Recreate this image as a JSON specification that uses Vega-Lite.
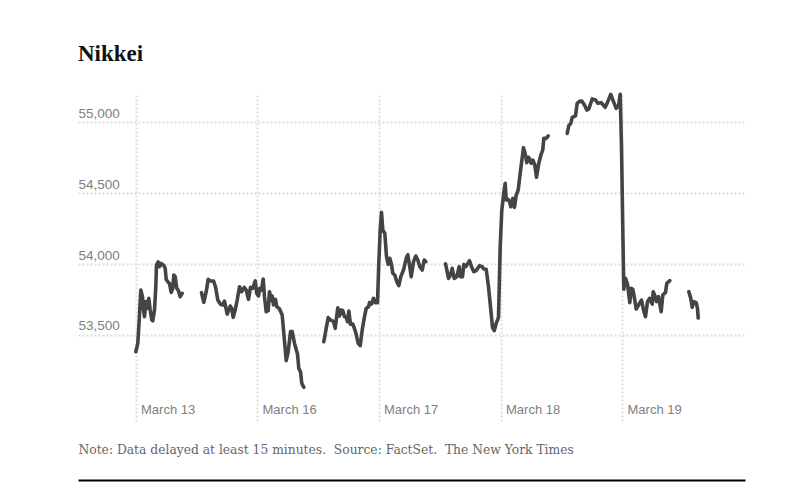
{"$schema":"https://vega.github.io/schema/vega-lite/v6.json","width":667,"height":327,"autosize":"none","padding":{"left":78,"top":95,"right":60,"bottom":78},"background":"white","config":{"view":{"stroke":null}},"title":{"text":"Nikkei","anchor":"start","frame":"group","font":"Liberation Serif","fontSize":23,"fontWeight":"bold","color":"#111111","baseline":"alphabetic","offset":8},"data":{"values":[
{"e":0.3,"v":53381,"s":1},{"e":2.3,"v":53440,"s":1},{"e":3.7,"v":53605,"s":1},{"e":5.3,"v":53817,"s":1},{"e":7,"v":53770,"s":1},{"e":8,"v":53676,"s":1},{"e":9,"v":53629,"s":1},{"e":10.3,"v":53735,"s":1},{"e":11.7,"v":53687,"s":1},{"e":13.3,"v":53758,"s":1},{"e":14.7,"v":53676,"s":1},{"e":16.3,"v":53605,"s":1},{"e":17.3,"v":53600,"s":1},{"e":19,"v":53676,"s":1},{"e":20.3,"v":53840,"s":1},{"e":21,"v":53994,"s":1},{"e":22.7,"v":54015,"s":1},{"e":24,"v":53982,"s":1},{"e":25.7,"v":54005,"s":1},{"e":28.3,"v":53991,"s":1},{"e":29.7,"v":53970,"s":1},{"e":30.7,"v":53892,"s":1},{"e":32.7,"v":53871,"s":1},{"e":34,"v":53864,"s":1},{"e":35.7,"v":53800,"s":1},{"e":37.3,"v":53829,"s":1},{"e":38.3,"v":53923,"s":1},{"e":39.7,"v":53911,"s":1},{"e":41.3,"v":53829,"s":1},{"e":43,"v":53812,"s":1},{"e":44.7,"v":53770,"s":1},{"e":46.7,"v":53793,"s":1},
{"e":66,"v":53798,"s":2},{"e":68.3,"v":53730,"s":2},{"e":70.7,"v":53805,"s":2},{"e":72.7,"v":53892,"s":2},{"e":74.7,"v":53881,"s":2},{"e":78,"v":53881,"s":2},{"e":80,"v":53840,"s":2},{"e":82.3,"v":53746,"s":2},{"e":85,"v":53716,"s":2},{"e":87.3,"v":53711,"s":2},{"e":89,"v":53739,"s":2},{"e":91.7,"v":53647,"s":2},{"e":94.7,"v":53704,"s":2},{"e":96.3,"v":53687,"s":2},{"e":97.7,"v":53624,"s":2},{"e":99.7,"v":53676,"s":2},{"e":101.7,"v":53746,"s":2},{"e":104,"v":53840,"s":2},{"e":106,"v":53805,"s":2},{"e":108.7,"v":53836,"s":2},{"e":110.7,"v":53817,"s":2},{"e":113,"v":53751,"s":2},{"e":115,"v":53836,"s":2},{"e":117.3,"v":53829,"s":2},{"e":119.7,"v":53881,"s":2},{"e":121.3,"v":53793,"s":2},{"e":123,"v":53775,"s":2},{"e":124.3,"v":53829,"s":2},{"e":126,"v":53817,"s":2},{"e":127.7,"v":53895,"s":2},{"e":129,"v":53770,"s":2},{"e":130.7,"v":53664,"s":2},{"e":132.7,"v":53671,"s":2},{"e":134,"v":53805,"s":2},{"e":135.7,"v":53746,"s":2},{"e":136.7,"v":53775,"s":2},{"e":138,"v":53711,"s":2},{"e":140,"v":53751,"s":2},{"e":141.3,"v":53699,"s":2},{"e":144,"v":53683,"s":2},{"e":146.7,"v":53640,"s":2},{"e":148.3,"v":53511,"s":2},{"e":150.7,"v":53318,"s":2},{"e":152.7,"v":53381,"s":2},{"e":155,"v":53523,"s":2},{"e":156.7,"v":53523,"s":2},{"e":159,"v":53440,"s":2},{"e":162,"v":53365,"s":2},{"e":163.3,"v":53264,"s":2},{"e":165,"v":53240,"s":2},{"e":166.3,"v":53158,"s":2},{"e":168.3,"v":53130,"s":2},
{"e":188.3,"v":53452,"s":3},{"e":190.7,"v":53546,"s":3},{"e":192.7,"v":53622,"s":3},{"e":195,"v":53605,"s":3},{"e":198,"v":53596,"s":3},{"e":199.7,"v":53546,"s":3},{"e":202.3,"v":53692,"s":3},{"e":204,"v":53633,"s":3},{"e":205.7,"v":53676,"s":3},{"e":207.3,"v":53671,"s":3},{"e":209,"v":53629,"s":3},{"e":210.7,"v":53624,"s":3},{"e":212,"v":53593,"s":3},{"e":213.3,"v":53669,"s":3},{"e":215,"v":53575,"s":3},{"e":217.3,"v":53577,"s":3},{"e":220,"v":53523,"s":3},{"e":222.7,"v":53440,"s":3},{"e":224.7,"v":53424,"s":3},{"e":226.7,"v":53535,"s":3},{"e":229,"v":53629,"s":3},{"e":230.7,"v":53687,"s":3},{"e":233,"v":53699,"s":3},{"e":234,"v":53728,"s":3},{"e":236,"v":53718,"s":3},{"e":238,"v":53758,"s":3},{"e":240,"v":53728,"s":3},{"e":242,"v":53728,"s":3},{"e":243.3,"v":54005,"s":3},{"e":244.7,"v":54241,"s":3},{"e":246,"v":54365,"s":3},{"e":247.3,"v":54241,"s":3},{"e":249.3,"v":54217,"s":3},{"e":251,"v":54052,"s":3},{"e":252.7,"v":53998,"s":3},{"e":254.3,"v":54041,"s":3},{"e":256,"v":53998,"s":3},{"e":257.3,"v":53935,"s":3},{"e":259.3,"v":53923,"s":3},{"e":261.3,"v":53876,"s":3},{"e":263.3,"v":53848,"s":3},{"e":265.3,"v":53911,"s":3},{"e":268,"v":53958,"s":3},{"e":270.7,"v":54041,"s":3},{"e":272.3,"v":54066,"s":3},{"e":274,"v":53994,"s":3},{"e":275.7,"v":53911,"s":3},{"e":278,"v":54017,"s":3},{"e":280.3,"v":54057,"s":3},{"e":282.3,"v":54029,"s":3},{"e":284.3,"v":53982,"s":3},{"e":286.7,"v":53958,"s":3},{"e":288.7,"v":54029,"s":3},{"e":290.3,"v":54017,"s":3},
{"e":310,"v":54001,"s":4},{"e":311.7,"v":53946,"s":4},{"e":313,"v":53899,"s":4},{"e":315,"v":53923,"s":4},{"e":316.7,"v":53970,"s":4},{"e":318.7,"v":53899,"s":4},{"e":321.3,"v":53911,"s":4},{"e":323.7,"v":53982,"s":4},{"e":325,"v":53911,"s":4},{"e":327,"v":53911,"s":4},{"e":328.3,"v":53998,"s":4},{"e":330.3,"v":53982,"s":4},{"e":334,"v":54024,"s":4},{"e":336,"v":53982,"s":4},{"e":338.3,"v":53946,"s":4},{"e":340.7,"v":53954,"s":4},{"e":344,"v":53989,"s":4},{"e":346.7,"v":53982,"s":4},{"e":348.3,"v":53965,"s":4},{"e":350.7,"v":53963,"s":4},{"e":353,"v":53840,"s":4},{"e":355,"v":53699,"s":4},{"e":357,"v":53553,"s":4},{"e":358.7,"v":53530,"s":4},{"e":360.7,"v":53582,"s":4},{"e":363,"v":53624,"s":4},{"e":364.7,"v":54123,"s":4},{"e":366.3,"v":54382,"s":4},{"e":368.3,"v":54500,"s":4},{"e":369.7,"v":54570,"s":4},{"e":370.7,"v":54453,"s":4},{"e":372.7,"v":54457,"s":4},{"e":374,"v":54441,"s":4},{"e":375.3,"v":54405,"s":4},{"e":377.3,"v":54464,"s":4},{"e":379,"v":54401,"s":4},{"e":380.7,"v":54488,"s":4},{"e":382.7,"v":54523,"s":4},{"e":384.7,"v":54641,"s":4},{"e":388,"v":54822,"s":4},{"e":390,"v":54770,"s":4},{"e":391.3,"v":54716,"s":4},{"e":393.3,"v":54754,"s":4},{"e":395.7,"v":54712,"s":4},{"e":397.3,"v":54735,"s":4},{"e":399.3,"v":54700,"s":4},{"e":401,"v":54613,"s":4},{"e":403.3,"v":54712,"s":4},{"e":405.7,"v":54777,"s":4},{"e":407.3,"v":54806,"s":4},{"e":408.3,"v":54888,"s":4},{"e":410.7,"v":54888,"s":4},{"e":412.7,"v":54905,"s":4},
{"e":431.7,"v":54923,"s":5},{"e":433.3,"v":54978,"s":5},{"e":435.3,"v":54994,"s":5},{"e":436.7,"v":55036,"s":5},{"e":440,"v":55046,"s":5},{"e":441.7,"v":55135,"s":5},{"e":444,"v":55149,"s":5},{"e":446.3,"v":55152,"s":5},{"e":449,"v":55123,"s":5},{"e":451.3,"v":55088,"s":5},{"e":453.3,"v":55095,"s":5},{"e":456.7,"v":55166,"s":5},{"e":460,"v":55159,"s":5},{"e":462.3,"v":55135,"s":5},{"e":465.7,"v":55140,"s":5},{"e":469.7,"v":55107,"s":5},{"e":472.7,"v":55154,"s":5},{"e":475.3,"v":55199,"s":5},{"e":478,"v":55147,"s":5},{"e":480.7,"v":55100,"s":5},{"e":483,"v":55116,"s":5},{"e":484.7,"v":55199,"s":5},{"e":486,"v":54829,"s":5},{"e":487.3,"v":54241,"s":5},{"e":488.3,"v":53822,"s":5},{"e":490,"v":53899,"s":5},{"e":492,"v":53859,"s":5},{"e":494.3,"v":53728,"s":5},{"e":495.7,"v":53829,"s":5},{"e":497.3,"v":53822,"s":5},{"e":498.7,"v":53770,"s":5},{"e":500.7,"v":53683,"s":5},{"e":503,"v":53711,"s":5},{"e":506,"v":53746,"s":5},{"e":508,"v":53676,"s":5},{"e":510,"v":53629,"s":5},{"e":512,"v":53735,"s":5},{"e":514,"v":53758,"s":5},{"e":516.7,"v":53718,"s":5},{"e":517.7,"v":53805,"s":5},{"e":519.7,"v":53770,"s":5},{"e":521,"v":53735,"s":5},{"e":523,"v":53770,"s":5},{"e":525.7,"v":53664,"s":5},{"e":527.3,"v":53782,"s":5},{"e":530,"v":53800,"s":5},{"e":531.3,"v":53864,"s":5},{"e":534.3,"v":53883,"s":5},
{"e":553.3,"v":53805,"s":6},{"e":555.3,"v":53758,"s":6},{"e":556.7,"v":53695,"s":6},{"e":558.3,"v":53735,"s":6},{"e":560.7,"v":53728,"s":6},{"e":562,"v":53687,"s":6},{"e":562.7,"v":53619,"s":6}
]},
"mark":{"type":"line","color":"#444444","strokeWidth":3.6,"strokeJoin":"round","strokeCap":"round","interpolate":"linear"},
"encoding":{
"detail":{"field":"s","type":"nominal"},
"x":{"field":"e","type":"quantitative","scale":{"domain":[-57.5,609.5],"nice":false,"zero":false},"axis":{"values":[0,121.5,243,365,486.5],"labelExpr":"{'0':'March 13','121.5':'March 16','243':'March 17','365':'March 18','486.5':'March 19'}[datum.value+'']","ticks":false,"domain":true,"domainColor":"#000000","domainWidth":2,"offset":58,"grid":true,"gridColor":"#dddddd","gridWidth":2,"gridDash":[2,2],"labelAlign":"left","labelBaseline":"alphabetic","labelPadding":-67,"labelOffset":5,"labelFont":"Liberation Sans","labelFontSize":13,"labelColor":"#808080","title":"Note: Data delayed at least 15 minutes.\u00a0 Source: FactSet.\u00a0 The New York Times","titleFont":"DejaVu Serif","titleFontSize":12.3,"titleFontWeight":"normal","titleColor":"#666666","titleAlign":"left","titleBaseline":"alphabetic","titleAnchor":"start","titleX":0,"titleY":-27}},
"y":{"field":"v","type":"quantitative","scale":{"domain":[52885,55194],"nice":false,"zero":false},"axis":{"values":[53500,54000,54500,55000],"format":",d","ticks":false,"domain":false,"grid":true,"gridColor":"#dddddd","gridWidth":2,"gridDash":[2,2],"labelAlign":"left","labelBaseline":"alphabetic","labelPadding":0,"labelOffset":-5,"labelFont":"Liberation Sans","labelFontSize":13.5,"labelColor":"#808080","title":null}}
}}
